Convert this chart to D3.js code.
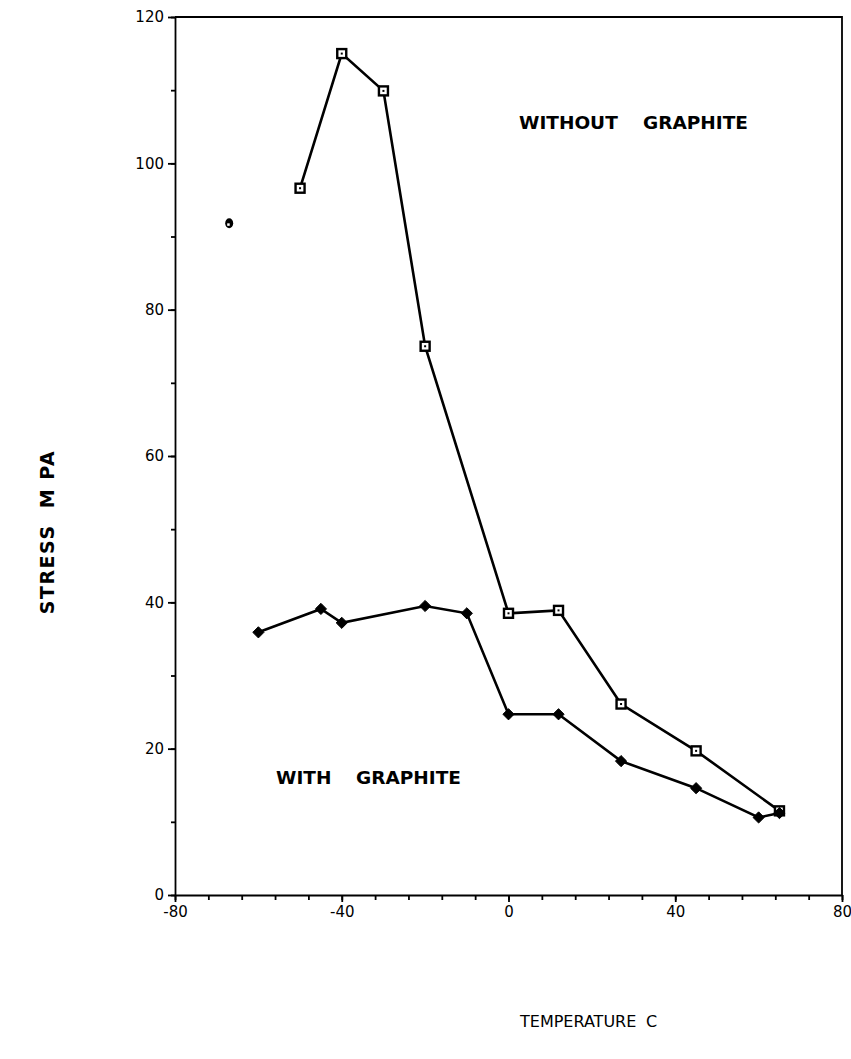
<!DOCTYPE html>
<html>
<head>
<meta charset="utf-8">
<script src="https://cdn.jsdelivr.net/npm/d3@7"></script>
<style>
  body { margin: 0; background: #fff; }
  text { font-family: "DejaVu Sans", sans-serif; fill: #000; }
</style>
</head>
<body>
<svg id="chart" width="851" height="1059"></svg>
<script>
// Without graphite (open squares)
const withoutTemp = [-50, -40, -30, -20, 0, 12, 27, 45, 65];
const withoutStress = [96.6, 115, 109.9, 75, 38.5, 38.9, 26.1, 19.7, 11.5];

// Stray single point to the left
const strayTemp = [-67];
const strayStress = [91.8];

// With graphite (filled diamonds)
const withTemp = [-60, -45, -40, -20, -10, 0, 12, 27, 45, 60, 65];
const withStress = [35.9, 39.1, 37.2, 39.5, 38.5, 24.7, 24.7, 18.3, 14.6, 10.6, 11.2];

const xTicks = [-80, -40, 0, 40, 80];
const yTicks = [0, 20, 40, 60, 80, 100, 120];

const svg = d3.select('#chart');
const x = d3.scaleLinear().domain([-80, 80]).range([175, 842]);
const y = d3.scaleLinear().domain([0, 120]).range([895, 17]);

// frame: top and right borders
svg.append('path')
  .attr('d', `M${x(-80)},${y(120)}H${x(80)}V${y(0)}`)
  .attr('fill', 'none')
  .attr('stroke', '#000')
  .attr('stroke-width', 1.8);

const fmt = d => String(d);

// x axis with minor ticks every 8
const xAxis = svg.append('g').attr('transform', `translate(0,${y(0)})`);
xAxis.append('g')
  .call(d3.axisBottom(x).tickValues(d3.range(-80, 81, 8)).tickSize(5).tickFormat(''))
  .call(g => g.select('.domain').remove());
xAxis.append('g')
  .call(d3.axisBottom(x).tickValues(xTicks).tickSize(7).tickPadding(4).tickSizeOuter(0).tickFormat(fmt))
  .call(g => g.selectAll('text').attr('font-size', 15).attr('font-family', '"DejaVu Sans", sans-serif'));
xAxis.selectAll('path, line').attr('stroke', '#000').attr('stroke-width', 1.8);

// y axis with minor ticks every 10
const yAxis = svg.append('g').attr('transform', `translate(${x(-80)},0)`);
yAxis.append('g')
  .call(d3.axisLeft(y).tickValues(d3.range(0, 121, 10)).tickSize(4).tickFormat(''))
  .call(g => g.select('.domain').remove());
yAxis.append('g')
  .call(d3.axisLeft(y).tickValues(yTicks).tickSize(7).tickPadding(4).tickSizeOuter(0).tickFormat(fmt))
  .call(g => g.selectAll('text').attr('font-size', 15).attr('font-family', '"DejaVu Sans", sans-serif'));
yAxis.selectAll('path, line').attr('stroke', '#000').attr('stroke-width', 1.8);

const line = d3.line().x(d => x(d[0])).y(d => y(d[1]));

const withoutPts = withoutTemp.map((t, i) => [t, withoutStress[i]]);
const withPts = withTemp.map((t, i) => [t, withStress[i]]);
const strayPts = strayTemp.map((t, i) => [t, strayStress[i]]);

svg.append('path').datum(withoutPts)
  .attr('d', line).attr('fill', 'none').attr('stroke', '#000').attr('stroke-width', 2.6);
svg.append('path').datum(withPts)
  .attr('d', line).attr('fill', 'none').attr('stroke', '#000').attr('stroke-width', 2.6);

// open squares with a small dot inside
const sq = svg.append('g').selectAll('g').data(withoutPts).join('g')
  .attr('transform', d => `translate(${x(d[0])},${y(d[1])})`);
sq.append('rect')
  .attr('x', -4.5).attr('y', -4.5).attr('width', 9).attr('height', 9)
  .attr('fill', '#fff').attr('stroke', '#000').attr('stroke-width', 2.4);
sq.append('rect')
  .attr('x', -1).attr('y', -1).attr('width', 2).attr('height', 2).attr('fill', '#000');

// filled diamonds
const diamond = d3.symbol().type(d3.symbolDiamond2).size(80);
svg.append('g').selectAll('path').data(withPts).join('path')
  .attr('transform', d => `translate(${x(d[0])},${y(d[1])})`)
  .attr('d', diamond).attr('fill', '#000').attr('stroke', '#000').attr('stroke-width', 1);

// stray point
svg.append('g').selectAll('g').data(strayPts).join('g')
  .attr('transform', d => `translate(${x(d[0])},${y(d[1])})`)
  .call(g => {
    g.append('ellipse').attr('rx', 4).attr('ry', 5).attr('fill', '#000');
    g.append('rect').attr('x', -2).attr('y', 0).attr('width', 2.5).attr('height', 2.5).attr('fill', '#fff');
  });

// annotations
const t1 = svg.append('text').attr('x', 519).attr('y', 129)
  .attr('font-size', 18.5).attr('font-weight', 'bold');
t1.append('tspan').text('WITHOUT');
t1.append('tspan').attr('x', 643).text('GRAPHITE');

const t2 = svg.append('text').attr('x', 276).attr('y', 784)
  .attr('font-size', 18.5).attr('font-weight', 'bold');
t2.append('tspan').text('WITH');
t2.append('tspan').attr('x', 356).text('GRAPHITE');

// axis titles
svg.append('text')
  .attr('transform', 'translate(54,532) rotate(-90)')
  .attr('text-anchor', 'middle')
  .attr('font-size', 19).attr('font-weight', 'bold')
  .attr('letter-spacing', 1.5)
  .attr('xml:space', 'preserve').text('STRESS  M PA');

const t3 = svg.append('text').attr('x', 520).attr('y', 1027)
  .attr('font-size', 16);
t3.append('tspan').text('TEMPERATURE');
t3.append('tspan').attr('x', 646).text('C');
</script>
</body>
</html>
